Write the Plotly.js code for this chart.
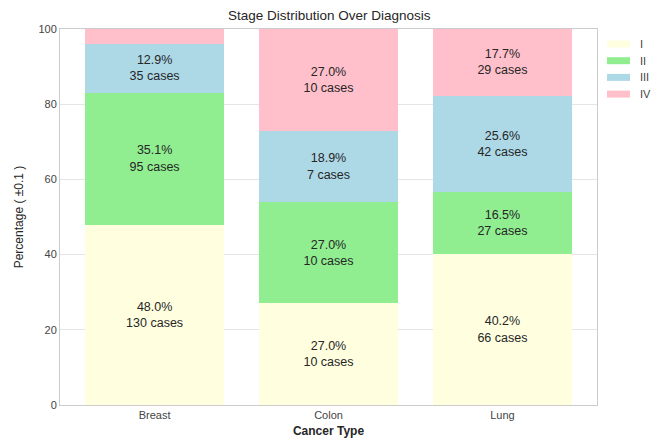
<!DOCTYPE html>
<html>
<head>
<meta charset="utf-8">
<script src="https://cdn.plot.ly/plotly-3.0.1.min.js"></script>
<style>html,body{margin:0;padding:0;background:#fff;}#chart{width:665px;height:445px;}</style>
</head>
<body>
<div id="chart"></div>
<script>
const categories = ["Breast", "Colon", "Lung"];
const stages = ["I", "II", "III", "IV"];
const pctI = [48.0, 27.0, 40.2];
const pctII = [35.1, 27.0, 16.5];
const pctIII = [12.9, 18.9, 25.6];
const pctIV = [4.0, 27.0, 17.7];
const casesI = [130, 10, 66];
const casesII = [95, 10, 27];
const casesIII = [35, 7, 42];
const casesIV = [11, 10, 29];
const colors = ["#FFFFE0", "#90EE90", "#ADD8E6", "#FFC0CB"];

const pcts = [pctI, pctII, pctIII, pctIV];
const cases = [casesI, casesII, casesIII, casesIV];

const traces = stages.map((s, i) => ({
  type: "bar",
  name: s,
  x: categories,
  y: pcts[i],
  width: 0.8,
  marker: {color: colors[i], line: {width: 0}},
  text: pcts[i].map((p, j) => p >= 5 ? p.toFixed(1) + "%<br>" + cases[i][j] + " cases" : ""),
  textposition: "inside",
  insidetextanchor: "middle",
  textangle: 0,
  constraintext: "none",
  textfont: {family: "Liberation Sans, Arial, sans-serif", size: 12.5, color: "#262626"},
  hoverinfo: "skip",
  showlegend: false
}));

// custom legend (wide rectangles like the reference)
const W = 665, H = 445, mL = 60, mR = 68, mT = 29, mB = 40;
const pw = W - mL - mR, ph = H - mT - mB;
const px = x => (x - mL) / pw;
const py = y => 1 - (y - mT) / ph;
const shapes = [], annotations = [];
stages.forEach((s, i) => {
  const cy = 44 + i * 16.7;
  shapes.push({type: "rect", xref: "paper", yref: "paper",
    x0: px(607), x1: px(630), y0: py(cy + 3.5), y1: py(cy - 3.5),
    fillcolor: colors[i], line: {width: 0}});
  annotations.push({xref: "paper", yref: "paper", x: px(638), y: py(cy),
    xanchor: "left", yanchor: "middle", text: s, showarrow: false,
    font: {size: 11, color: "#444"}});
});

const layout = {
  width: W, height: H,
  barmode: "stack",
  margin: {l: mL, r: mR, t: mT, b: mB},
  paper_bgcolor: "#fff",
  plot_bgcolor: "#fff",
  font: {family: "Liberation Sans, Arial, sans-serif", color: "#262626"},
  title: {text: "Stage Distribution Over Diagnosis", font: {size: 13.5, color: "#262626"}, x: 0.495, xanchor: "center", y: 0.965, yanchor: "middle"},
  xaxis: {
    range: [-0.544, 2.544],
    showgrid: false,
    showline: true, linecolor: "#cccccc", linewidth: 1, mirror: true,
    ticks: "", tickfont: {size: 11, color: "#444"},
    title: {text: "<b>Cancer Type</b>", font: {size: 12, color: "#262626"}, standoff: 6}
  },
  yaxis: {
    range: [0, 100],
    tickvals: [0, 20, 40, 60, 80, 100],
    showgrid: true, gridcolor: "#e5e5e5", gridwidth: 1,
    showline: true, linecolor: "#cccccc", linewidth: 1, mirror: true,
    zeroline: false,
    ticks: "", tickfont: {size: 11, color: "#444"},
    title: {text: "Percentage ( ±0.1 )", font: {size: 12, color: "#262626"}, standoff: 12}
  },
  shapes: shapes,
  annotations: annotations,
  showlegend: false
};

Plotly.newPlot("chart", traces, layout, {displayModeBar: false, staticPlot: true});
</script>
</body>
</html>
